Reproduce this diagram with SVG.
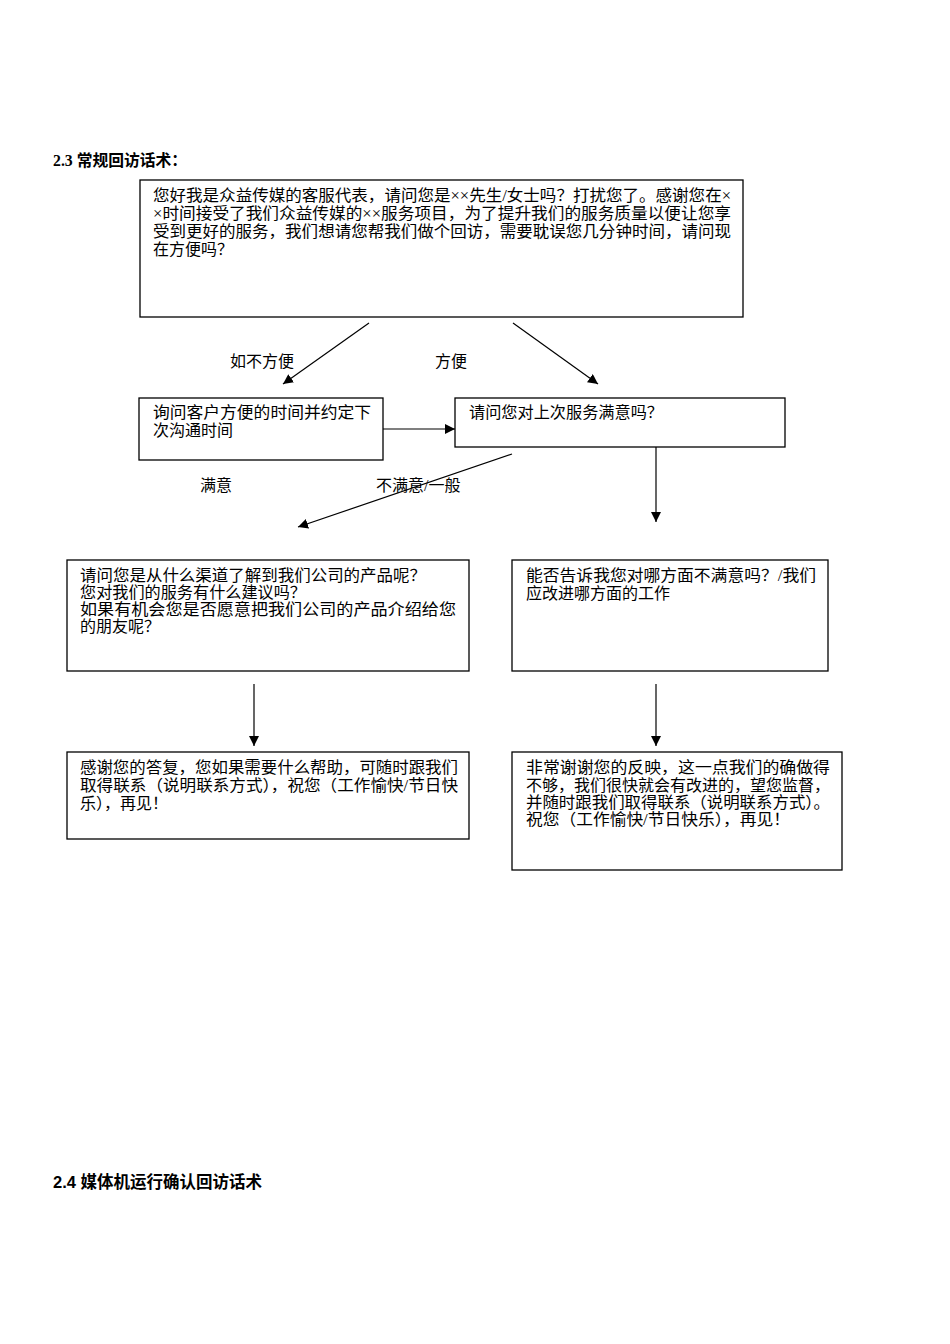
<svg xmlns="http://www.w3.org/2000/svg" width="950" height="1344" viewBox="0 0 950 1344">
<style>
  .bg { fill: #ffffff; }
  .box { fill: #ffffff; stroke: #000000; stroke-width: 1.3; }
  .t { font-family: "Liberation Serif", "Noto Sans CJK SC", serif; font-size: 16px; fill: #000000; }
  .h { font-family: "Liberation Serif", "Noto Sans CJK SC", serif; font-size: 16px; font-weight: bold; fill: #000000; }
  .h2 { font-family: "Liberation Sans", "Noto Sans CJK SC", sans-serif; font-size: 16.5px; font-weight: bold; fill: #000000; }
  .c { stroke: #000000; stroke-width: 1.2; fill: none; marker-end: url(#ah); }
</style>
<defs>
  <marker id="ah" viewBox="0 0 10 10" refX="10" refY="5" markerWidth="10" markerHeight="10" markerUnits="userSpaceOnUse" orient="auto">
    <path d="M0,0 L10,5 L0,10 z" fill="#000000"/>
  </marker>
</defs>
<rect class="bg" x="0" y="0" width="950" height="1344"/>

<text id="title23" class="h" x="53" y="166" textLength="134" lengthAdjust="spacingAndGlyphs">2.3 常规回访话术：</text>

<g id="n1">
  <rect class="box" x="140" y="180" width="603" height="137"/>
  <text class="t" x="153" y="201" textLength="578" lengthAdjust="spacingAndGlyphs">您好我是众益传媒的客服代表，请问您是××先生/女士吗？打扰您了。感谢您在×</text>
  <text class="t" x="153" y="219" textLength="578" lengthAdjust="spacingAndGlyphs">×时间接受了我们众益传媒的××服务项目，为了提升我们的服务质量以便让您享</text>
  <text class="t" x="153" y="237" textLength="578" lengthAdjust="spacingAndGlyphs">受到更好的服务，我们想请您帮我们做个回访，需要耽误您几分钟时间，请问现</text>
  <text class="t" x="153" y="255">在方便吗？</text>
</g>

<g id="n2">
  <rect class="box" x="139" y="398" width="244" height="62"/>
  <text class="t" x="153" y="418" textLength="218" lengthAdjust="spacingAndGlyphs">询问客户方便的时间并约定下</text>
  <text class="t" x="153" y="436">次沟通时间</text>
</g>

<g id="n3">
  <rect class="box" x="455" y="398" width="330" height="49"/>
  <text class="t" x="469" y="418" textLength="194" lengthAdjust="spacingAndGlyphs">请问您对上次服务满意吗？</text>
</g>

<g id="n4">
  <rect class="box" x="67" y="560" width="402" height="111"/>
  <text class="t" x="80" y="581" textLength="346" lengthAdjust="spacingAndGlyphs">请问您是从什么渠道了解到我们公司的产品呢？</text>
  <text class="t" x="80" y="598" textLength="226" lengthAdjust="spacingAndGlyphs">您对我们的服务有什么建议吗？</text>
  <text class="t" x="80" y="615" textLength="376" lengthAdjust="spacingAndGlyphs">如果有机会您是否愿意把我们公司的产品介绍给您</text>
  <text class="t" x="80" y="632">的朋友呢？</text>
</g>

<g id="n5">
  <rect class="box" x="512" y="560" width="316" height="111"/>
  <text class="t" x="526" y="581" textLength="290" lengthAdjust="spacingAndGlyphs">能否告诉我您对哪方面不满意吗？/我们</text>
  <text class="t" x="526" y="599">应改进哪方面的工作</text>
</g>

<g id="n6">
  <rect class="box" x="67" y="752" width="402" height="87"/>
  <text class="t" x="80" y="773" textLength="378" lengthAdjust="spacingAndGlyphs">感谢您的答复，您如果需要什么帮助，可随时跟我们</text>
  <text class="t" x="80" y="791" textLength="378" lengthAdjust="spacingAndGlyphs">取得联系（说明联系方式），祝您（工作愉快/节日快</text>
  <text class="t" x="80" y="809">乐），再见！</text>
</g>

<g id="n7">
  <rect class="box" x="512" y="752" width="330" height="118"/>
  <text class="t" x="526" y="773" textLength="304" lengthAdjust="spacingAndGlyphs">非常谢谢您的反映，这一点我们的确做得</text>
  <text class="t" x="526" y="791" textLength="304" lengthAdjust="spacingAndGlyphs">不够，我们很快就会有改进的，望您监督，</text>
  <text class="t" x="526" y="808" textLength="304" lengthAdjust="spacingAndGlyphs">并随时跟我们取得联系（说明联系方式）。</text>
  <text class="t" x="526" y="825" textLength="264" lengthAdjust="spacingAndGlyphs">祝您（工作愉快/节日快乐），再见！</text>
</g>

<g id="connectors">
  <line class="c" x1="369" y1="323" x2="283" y2="384"/>
  <line class="c" x1="513" y1="323" x2="598" y2="384"/>
  <line class="c" x1="383" y1="429" x2="455" y2="429"/>
  <line class="c" x1="512" y1="454" x2="298" y2="527"/>
  <line class="c" x1="656" y1="447" x2="656" y2="522"/>
  <line class="c" x1="254" y1="684" x2="254" y2="746"/>
  <line class="c" x1="656" y1="684" x2="656" y2="746"/>
</g>

<g id="labels">
  <text class="t" x="230" y="367">如不方便</text>
  <text class="t" x="435" y="367">方便</text>
  <text class="t" x="200" y="491">满意</text>
  <text class="t" x="376" y="491">不满意/一般</text>
</g>

<text id="title24" class="h2" x="53" y="1188" textLength="209" lengthAdjust="spacingAndGlyphs">2.4 媒体机运行确认回访话术</text>
</svg>
